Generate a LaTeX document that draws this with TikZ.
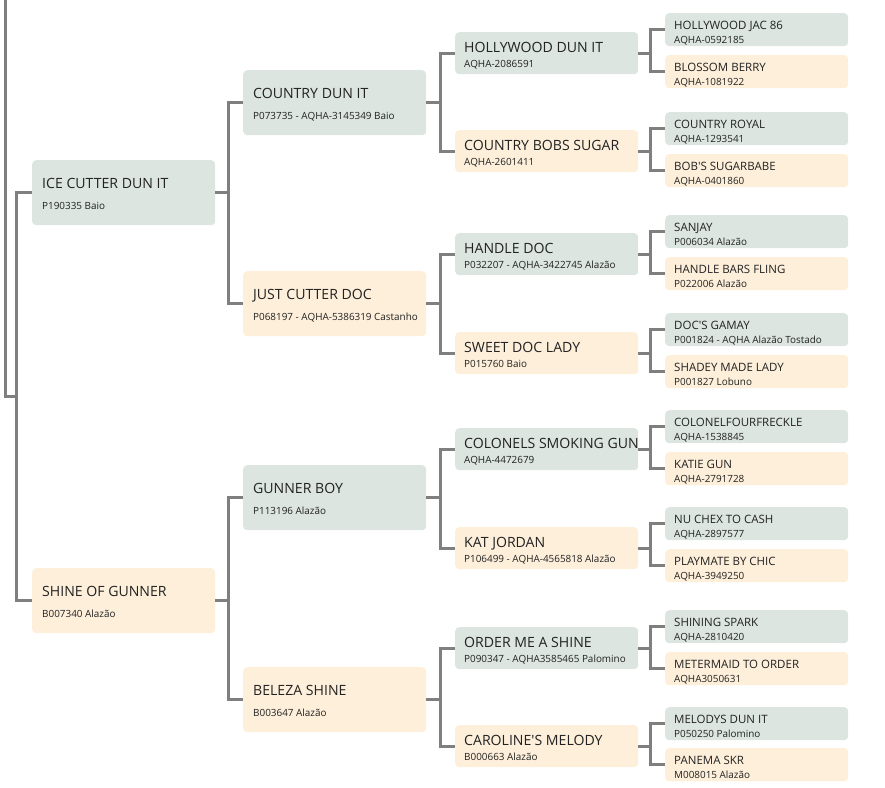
\documentclass[tikz,border=0pt]{standalone}
\usepackage{fontspec}
\setmainfont{Open Sans}[Ligatures=TeXOff]
\usetikzlibrary{positioning,calc}
\definecolor{sirefill}{HTML}{DCE5E0}
\definecolor{damfill}{HTML}{FDEFDA}
\definecolor{linkgray}{HTML}{7F7F7F}
\definecolor{ink}{HTML}{222222}

\begin{document}
\begin{tikzpicture}[x=1pt,y=-1pt,
    box/.style={anchor=north west,minimum width=183pt,rounded corners=4pt,inner sep=0pt},
    title/.style={anchor=base west,inner sep=0pt,text=ink,font=\fontsize{14.1}{17}\selectfont},
    smalltitle/.style={title,font=\fontsize{11.5}{14}\selectfont},
    sub/.style={anchor=base west,inner sep=0pt,text=ink,font=\fontsize{9.9}{12}\selectfont},
    link/.style={draw=linkgray,line width=3pt}]
\useasboundingbox (0,0) rectangle (885,787);

% generation 1 and 2
\foreach \n/\x/\y/\c/\t/\s in {ice/32/160/sirefill/ICE CUTTER DUN IT/P190335 Baio,
    sog/32/568/damfill/SHINE OF GUNNER/B007340 Alazão,
    cdi/243/70/sirefill/COUNTRY DUN IT/P073735 - AQHA-3145349 Baio,
    jcd/243/271/damfill/JUST CUTTER DOC/P068197 - AQHA-5386319 Castanho,
    gb/243/465/sirefill/GUNNER BOY/P113196 Alazão,
    bs/243/667/damfill/BELEZA SHINE/B003647 Alazão}{
  \node[box,fill=\c,minimum height=65pt] (\n) at (\x,\y) {};
  \node[title] (\n-t) at ([shift={(10,28)}]\n.north west) {\t};
  \node[sub] (\n-s) at ([shift={(10,49)}]\n.north west) {\s};
}

% generation 3
\foreach \n/\y/\c/\t/\s in {hdi/32/sirefill/HOLLYWOOD DUN IT/AQHA-2086591,
    cbs/130/damfill/COUNTRY BOBS SUGAR/AQHA-2601411,
    hd/233/sirefill/HANDLE DOC/P032207 - AQHA-3422745 Alazão,
    sdl/332/damfill/SWEET DOC LADY/P015760 Baio,
    csg/428/sirefill/COLONELS SMOKING GUN/AQHA-4472679,
    kj/527/damfill/KAT JORDAN/P106499 - AQHA-4565818 Alazão,
    omas/627/sirefill/ORDER ME A SHINE/P090347 - AQHA3585465 Palomino,
    cm/725/damfill/CAROLINE'S MELODY/B000663 Alazão}{
  \node[box,fill=\c,minimum height=42pt] (\n) at (455,\y) {};
  \node[title] (\n-t) at ([shift={(9,20)}]\n.north west) {\t};
  \node[sub] (\n-s) at ([shift={(9,35)}]\n.north west) {\s};
}

% generation 4
\foreach \n/\y/\c/\t/\s in {hj/13/sirefill/HOLLYWOOD JAC 86/AQHA-0592185,
    bb/55/damfill/BLOSSOM BERRY/AQHA-1081922,
    cr/112/sirefill/COUNTRY ROYAL/AQHA-1293541,
    bsb/154/damfill/BOB'S SUGARBABE/AQHA-0401860,
    sj/215/sirefill/SANJAY/P006034 Alazão,
    hbf/257/damfill/HANDLE BARS FLING/P022006 Alazão,
    dg/313/sirefill/DOC'S GAMAY/P001824 - AQHA Alazão Tostado,
    sml/355/damfill/SHADEY MADE LADY/P001827 Lobuno,
    cf/410/sirefill/COLONELFOURFRECKLE/AQHA-1538845,
    kg/452/damfill/KATIE GUN/AQHA-2791728,
    nc/507/sirefill/NU CHEX TO CASH/AQHA-2897577,
    pbc/549/damfill/PLAYMATE BY CHIC/AQHA-3949250,
    ss/610/sirefill/SHINING SPARK/AQHA-2810420,
    mto/652/damfill/METERMAID TO ORDER/AQHA3050631,
    mdi/707/sirefill/MELODYS DUN IT/P050250 Palomino,
    ps/748/damfill/PANEMA SKR/M008015 Alazão}{
  \node[box,fill=\c,minimum height=33pt] (\n) at (665,\y) {};
  \node[smalltitle] (\n-t) at ([shift={(9,16)}]\n.north west) {\t};
  \node[sub] (\n-s) at ([shift={(9,30)}]\n.north west) {\s};
}

% connectors
\foreach \p/\a/\b in {ice/cdi/jcd, sog/gb/bs, cdi/hdi/cbs, jcd/hd/sdl,
    gb/csg/kj, bs/omas/cm, hdi/hj/bb, cbs/cr/bsb, hd/sj/hbf, sdl/dg/sml,
    csg/cf/kg, kj/nc/pbc, omas/ss/mto, cm/mdi/ps}{
  \draw[link] (\a.west) -- ++(-14.5,0) |- (\b.west);
  \draw[link] (\p.east) -- ($(\p.east -| \a.west)+(-14.5,0)$);
}
\draw[link] (ice.west) -- ++(-16,0) |- (sog.west);
\coordinate (top) at (5,-2);
\draw[link] (top) |- ($(ice.west)!.5!(sog.west)+(-16,0)$);
\end{tikzpicture}
\end{document}
